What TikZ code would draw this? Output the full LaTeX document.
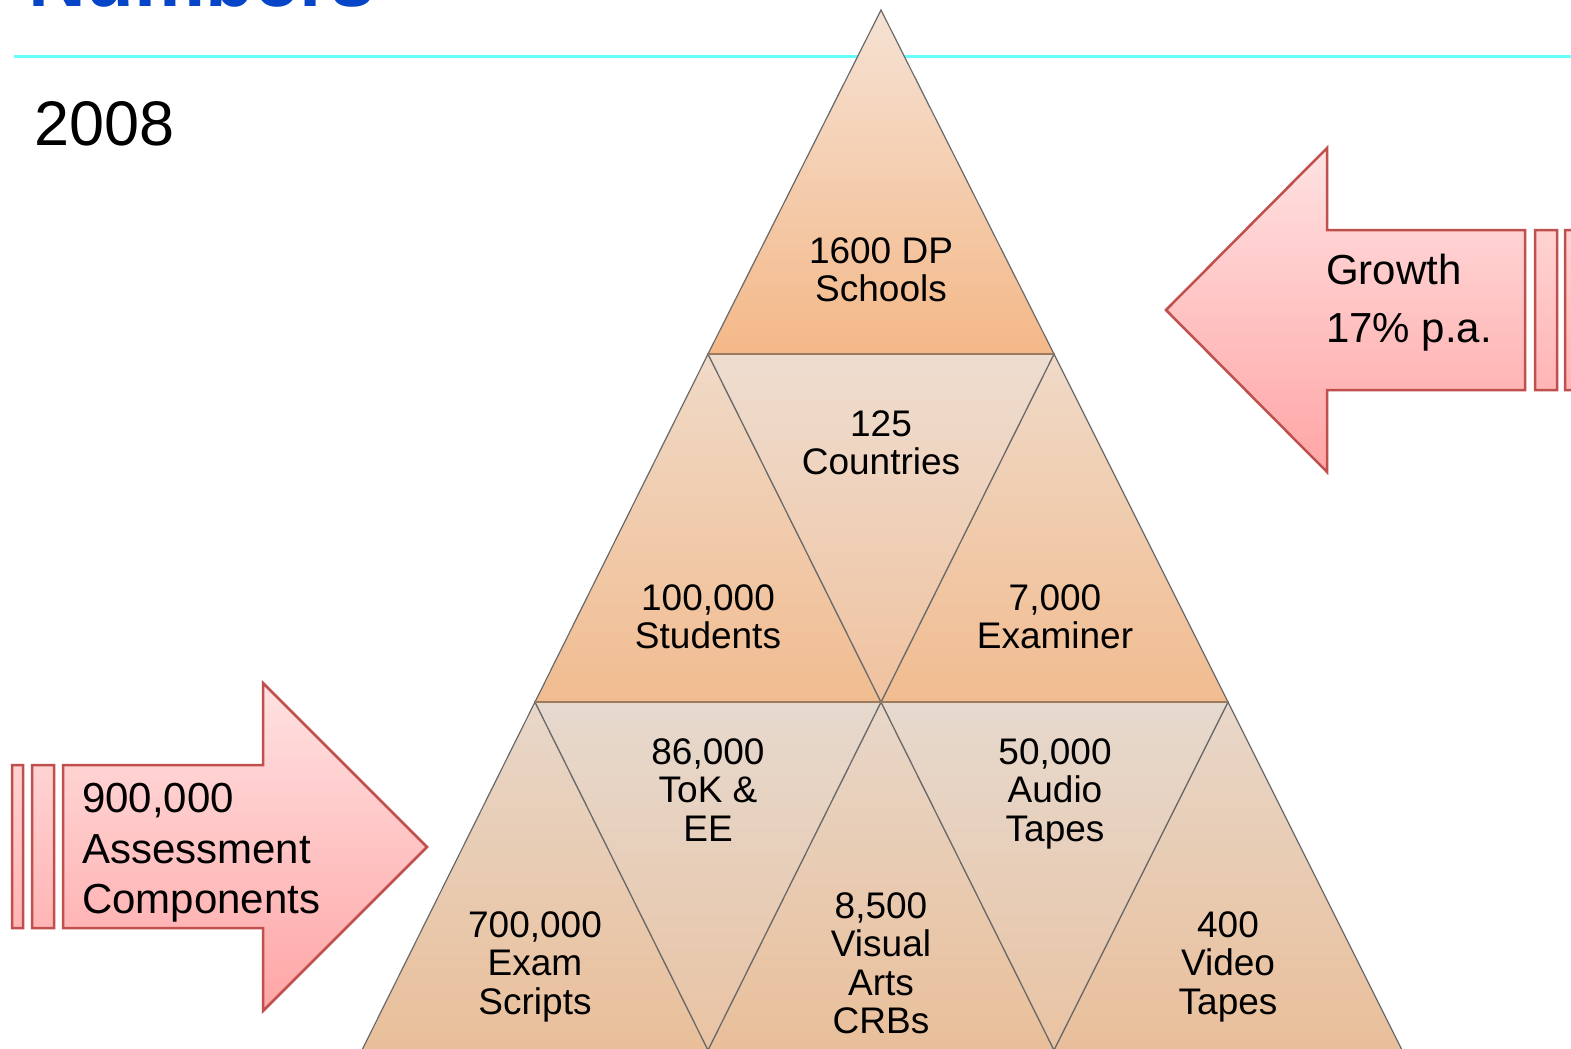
\documentclass[tikz,border=0pt]{standalone}
\usepackage{fontspec}
\setmainfont{Liberation Sans}
\definecolor{titleblue}{HTML}{0645C8}
\definecolor{rulecyan}{HTML}{66FFFF}
\definecolor{edgegray}{HTML}{6A6A6A}
\definecolor{rowline}{HTML}{9C7A5E}
\definecolor{arrowline}{HTML}{C0504D}
\definecolor{arrowtop}{HTML}{FFE2E2}
\definecolor{arrowbot}{HTML}{FFA5A5}
\definecolor{upAtop}{HTML}{F5E2D4}
\definecolor{upAbot}{HTML}{F4B888}
\definecolor{upBtop}{HTML}{F0DAC8}
\definecolor{upBbot}{HTML}{F1BC90}
\definecolor{invBtop}{HTML}{EEDDD0}
\definecolor{invBbot}{HTML}{F0C29F}
\definecolor{upCtop}{HTML}{E8D7C9}
\definecolor{upCbot}{HTML}{E9BF9A}
\definecolor{invCtop}{HTML}{E6D9CE}
\definecolor{invCbot}{HTML}{E9C3A3}
\tikzset{
  tri/.style={draw=edgegray, line width=1.2pt, line join=miter},
  lbl/.style={align=center, anchor=north, font=\fontsize{37}{38.5}\selectfont, inner sep=0pt},
  bigarrow/.style={draw=arrowline, line width=2.5pt, top color=arrowtop, bottom color=arrowbot, line join=miter},
  arrowtxt/.style={align=left, anchor=north west, inner sep=0pt}
}
\begin{document}
\begin{tikzpicture}[x=1pt,y=-1pt]
\useasboundingbox (0,0) rectangle (1571,1049);
\clip (0,0) rectangle (1571,1049);
\fill[white] (0,0) rectangle (1571,1049);
% title (cut off) and rule
\node[anchor=base west, inner sep=0pt, text=titleblue, font=\fontsize{80}{82}\selectfont\bfseries] (title) at (28,7) {Numbers};
\draw[rulecyan, line width=3pt] (14,57) -- (1571,57);
\node[anchor=base west, inner sep=0pt, font=\fontsize{63}{66}\selectfont] (year) at (34,145) {2008};
% pyramid
\shade[tri, top color=upAtop, bottom color=upAbot] (881,10) -- (1054,354) -- (708,354) -- cycle;
\shade[tri, top color=upBtop, bottom color=upBbot] (708,354) -- (881,702) -- (535,702) -- cycle;
\shade[tri, top color=upBtop, bottom color=upBbot] (1054,354) -- (1228,702) -- (881,702) -- cycle;
\shade[tri, top color=invBtop, bottom color=invBbot] (708,354) -- (1054,354) -- (881,702) -- cycle;
\shade[tri, top color=upCtop, bottom color=upCbot] (535,702) -- (708,1050) -- (362,1050) -- cycle;
\shade[tri, top color=upCtop, bottom color=upCbot] (881,702) -- (1054,1050) -- (708,1050) -- cycle;
\shade[tri, top color=upCtop, bottom color=upCbot] (1228,702) -- (1402,1050) -- (1054,1050) -- cycle;
\shade[tri, top color=invCtop, bottom color=invCbot] (535,702) -- (881,702) -- (708,1050) -- cycle;
\shade[tri, top color=invCtop, bottom color=invCbot] (881,702) -- (1228,702) -- (1054,1050) -- cycle;
\draw[rowline, line width=2pt] (708,354) -- (1054,354);
\draw[rowline, line width=2pt] (535,702) -- (1228,702);
% labels
\node[lbl] (schools) at (881,237) {1600 DP\\Schools};
\node[lbl] (countries) at (881,410) {125\\Countries};
\node[lbl] (students) at (708,584) {100,000\\Students};
\node[lbl] (examiner) at (1055,584) {7,000\\Examiner};
\node[lbl] (tok) at (708,738) {86,000\\ToK \&\\EE};
\node[lbl] (audio) at (1055,738) {50,000\\Audio\\Tapes};
\node[lbl] (scripts) at (535,911) {700,000\\Exam\\Scripts};
\node[lbl] (visual) at (881,892) {8,500\\Visual\\Arts\\CRBs};
\node[lbl] (video) at (1228,911) {400\\Video\\Tapes};
% growth arrow (points left)
\path[bigarrow] (1166,310) -- (1327,148) -- (1327,230) -- (1525,230) -- (1525,390) -- (1327,390) -- (1327,472) -- cycle
  (1535,230) rectangle (1557,390)
  (1565,230) rectangle (1595,390);
\node[arrowtxt, font=\fontsize{42}{58}\selectfont] (growth) at (1326,254) {Growth\\17\% p.a.};
% assessment arrow (points right)
\path[bigarrow] (63,765) -- (263,765) -- (263,683) -- (427,847) -- (263,1011) -- (263,928) -- (63,928) -- cycle
  (12,765) rectangle (23,928)
  (32,765) rectangle (54,928);
\node[arrowtxt, font=\fontsize{42}{50.5}\selectfont] (assess) at (82,783) {900,000\\Assessment\\Components};
\end{tikzpicture}
\end{document}
